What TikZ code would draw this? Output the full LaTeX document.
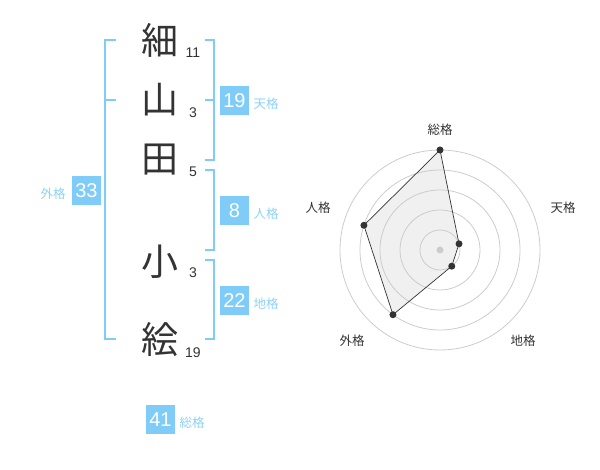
\documentclass[tikz,border=0pt]{standalone}
\usepackage{fontspec}
\setmainfont{Liberation Sans}
\newfontfamily\jp{Noto Sans CJK JP}
\usepackage{xcolor}
\usetikzlibrary{calc}
\definecolor{sky}{HTML}{80CCF8}
\definecolor{skytext}{HTML}{8DD2F6}
\definecolor{ink}{HTML}{333333}

\begin{document}
\begin{tikzpicture}[x=1pt,y=-1pt,
    kanji/.style={font=\jp\fontsize{37}{37}\selectfont, text=ink, inner sep=0},
    kakusu/.style={font=\fontsize{14}{14}\selectfont, text=ink, inner sep=0},
    score/.style={fill=sky, text=white, minimum size=29pt, inner sep=0, font=\fontsize{20}{20}\selectfont},
    kaku/.style={font=\jp\fontsize{12.5}{12.5}\selectfont, text=skytext, inner sep=0},
    bracket/.style={draw=sky, line width=2pt},
    ring/.style={draw=black!20, line width=0.8pt},
    axis/.style={font=\jp\fontsize{12.5}{12.5}\selectfont, text=ink, inner sep=0},
    dot/.style={circle, fill=ink, inner sep=0, minimum size=7pt}]
    \useasboundingbox (0,0) rectangle (600,470);

    % name
    \node [kanji] (k1) at (160,40)  {細};
    \node [kanji] (k2) at (160,100) {山};
    \node [kanji] (k3) at (160,160) {田};
    \node [kanji] (k4) at (160,262) {小};
    \node [kanji] (k5) at (160,340) {絵};
    \node [kakusu] (n1) at (193,53)  {11};
    \node [kakusu] (n2) at (193,113) {3};
    \node [kakusu] (n3) at (193,172) {5};
    \node [kakusu] (n4) at (193,273) {3};
    \node [kakusu] (n5) at (193,353) {19};

    % brackets
    \draw [bracket] (116,40) -- (105,40) -- (105,339) -- (116,339);
    \draw [bracket] (105,100) -- (116,100);
    \draw [bracket] (205,40) -- (214,40) -- (214,160) -- (205,160);
    \draw [bracket] (205,100) -- (214,100);
    \draw [bracket] (205,170) -- (214,170) -- (214,250) -- (205,250);
    \draw [bracket] (205,260) -- (214,260) -- (214,339) -- (205,339);

    % scores
    \node [score] (gaikaku) at (86.5,190.5) {33};
    \node [kaku] at (53,194) {外格};
    \node [score] (tenkaku) at (234.5,100.5) {19};
    \node [kaku] at (266,104) {天格};
    \node [score] (jinkaku) at (234.5,210.5) {8};
    \node [kaku] at (266,214) {人格};
    \node [score] (chikaku) at (234.5,300.5) {22};
    \node [kaku] at (266,304) {地格};
    \node [score] (sokaku) at (160.5,419.5) {41};
    \node [kaku] at (192,423) {総格};

    % radar (y is flipped, so angles are negated)
    \coordinate (c) at (440,250);
    \coordinate (p-so)   at ($(c)+(-90:100)$);
    \coordinate (p-ten)  at ($(c)+(-18:20)$);
    \coordinate (p-chi)  at ($(c)+(54:20)$);
    \coordinate (p-gai)  at ($(c)+(126:80)$);
    \coordinate (p-jin)  at ($(c)+(198:80)$);
    \fill [black!6] (p-so) -- (p-ten) -- (p-chi) -- (p-gai) -- (p-jin) -- cycle;
    \foreach \r in {20,40,...,100}
      \draw [ring] (c) circle [radius=\r];
    \fill [black!20] (c) circle [radius=3.5];
    \draw [draw=ink, line width=0.7pt]
      (p-so) -- (p-ten) -- (p-chi) -- (p-gai) -- (p-jin) -- cycle;
    \foreach \p in {so,ten,chi,gai,jin}
      \node [dot] (d-\p) at (p-\p) {};
    \node [axis] (a-so)  at (440,130) {総格};
    \node [axis] (a-ten) at (563,208) {天格};
    \node [axis] (a-chi) at (523,341) {地格};
    \node [axis] (a-gai) at (352,341) {外格};
    \node [axis] (a-jin) at (318,208) {人格};
\end{tikzpicture}
\end{document}
